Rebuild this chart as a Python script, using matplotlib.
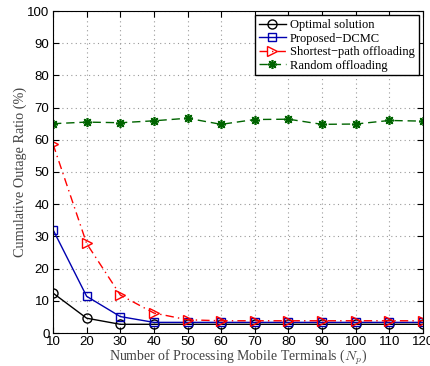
import matplotlib
matplotlib.use('Agg')
import matplotlib.pyplot as plt

# data
n_terminals = [10, 20, 30, 40, 50, 60, 70, 80, 90, 100, 110, 120]
optimal = [12.4, 4.6, 2.7, 2.7, 2.7, 2.7, 2.7, 2.7, 2.7, 2.7, 2.7, 2.7]
proposed = [32.1, 11.4, 5.1, 3.3, 3.3, 3.3, 3.3, 3.3, 3.3, 3.3, 3.3, 3.3]
shortest = [58.7, 27.8, 11.8, 6.2, 4.1, 3.8, 3.8, 3.8, 3.8, 3.8, 3.8, 3.8]
random_off = [65.0, 65.5, 65.3, 65.9, 66.7, 64.8, 66.3, 66.4, 64.8, 64.9, 66.0, 65.8]

plt.rcParams['mathtext.fontset'] = 'cm'

fig = plt.figure(figsize=(4.31, 3.66), dpi=100)
ax = fig.add_axes([53 / 431, 1 - 333 / 366, 370 / 431, 322 / 366])

ax.plot(n_terminals, optimal, color='black', lw=1, marker='o', ms=6.5,
        mfc='none', mec='black', label='Optimal solution')
ax.plot(n_terminals, proposed, color='#0000b0', lw=1, marker='s', ms=5.5,
        mfc='none', mec='#0000b0', label='Proposed\u2212DCMC')
ax.plot(n_terminals, shortest, color='red', lw=1, ls=(0, (6, 3, 1, 3)), marker='>', ms=7.5,
        mfc='none', mec='red', label='Shortest\u2212path offloading')
ax.plot(n_terminals, random_off, color='#006400', lw=1, ls=(0, (6, 3.5)), marker=(8, 2, 0), ms=6.5,
        mew=1.2, mec='#006400', label='Random offloading')

ax.set_xlim(10, 120)
ax.set_ylim(0, 100)
ax.set_xticks(n_terminals)
ax.set_yticks(range(0, 101, 10))
ax.grid(True, ls=(0, (1, 3)), color='#999999', lw=0.8)
ax.tick_params(direction='in', top=True, right=True, labelsize=9.5, length=4, pad=2.5)
for lab in ax.get_xticklabels() + ax.get_yticklabels():
    lab.set_family('Liberation Sans')

ax.set_xlabel('Number of Processing Mobile Terminals ($N_p$)',
              family='Liberation Serif', fontsize=10, color='#444444', va='center')
ax.xaxis.set_label_coords(0.5, -24 / 322)
ax.set_ylabel('Cumulative Outage Ratio (%)',
              family='Liberation Serif', fontsize=10.3, color='#444444', va='center')
ax.yaxis.set_label_coords(-33 / 370, 0.5)

leg = ax.legend(loc='upper right', prop={'family': 'Liberation Serif', 'size': 9},
                fancybox=False, edgecolor='black', framealpha=1,
                borderpad=0.3, labelspacing=0.12, handlelength=2.2,
                handletextpad=0.3, borderaxespad=0.35)
leg.get_frame().set_linewidth(1)

fig.savefig('out.png', dpi=100)
